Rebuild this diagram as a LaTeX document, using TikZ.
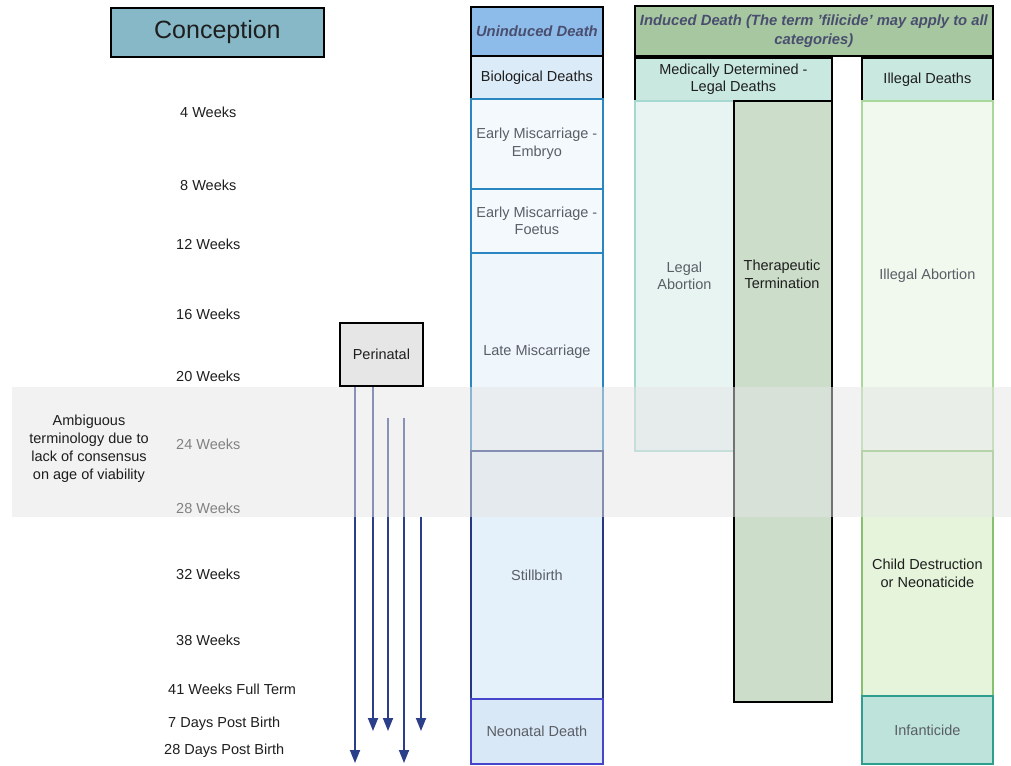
\documentclass[tikz,border=0pt]{standalone}
\usepackage{fontspec}
\setmainfont{Liberation Sans}
\usetikzlibrary{arrows.meta}
\definecolor{cConc}{HTML}{86B8C8}
\definecolor{cUnind}{HTML}{8EBCEA}
\definecolor{cBio}{HTML}{DCEBF8}
\definecolor{cMisB}{HTML}{2A86C0}
\definecolor{cMisF}{HTML}{F4F9FD}
\definecolor{cLateF}{HTML}{EFF6FC}
\definecolor{cStillB}{HTML}{28357F}
\definecolor{cStillF}{HTML}{E5F1FA}
\definecolor{cNeoB}{HTML}{4646CC}
\definecolor{cNeoF}{HTML}{D8E8F6}
\definecolor{cInd}{HTML}{A7C7A1}
\definecolor{cMed}{HTML}{C8E8E0}
\definecolor{cLegF}{HTML}{E8F4F2}
\definecolor{cLegB}{HTML}{A6D8D0}
\definecolor{cTherF}{HTML}{CCDDC9}
\definecolor{cIllF}{HTML}{F1F8EE}
\definecolor{cIllB}{HTML}{A9D89A}
\definecolor{cChF}{HTML}{E5F4DB}
\definecolor{cChB}{HTML}{86C070}
\definecolor{cInfF}{HTML}{BDE3DA}
\definecolor{cInfB}{HTML}{2F9E8E}
\definecolor{cPeri}{HTML}{E6E6E6}
\definecolor{cHead}{HTML}{4A4E6E}
\definecolor{cGreyTxt}{HTML}{5A5E66}
\definecolor{cArrow}{HTML}{2B3E8A}
\definecolor{cTxt}{HTML}{1E1E1E}
\tikzset{
  box/.style={draw, line width=1.8pt, inner sep=0pt, align=center, anchor=north west,
    font=\fontsize{14.5}{17.5}\selectfont},
  greytxt/.style={text=cGreyTxt},
  wk/.style={anchor=west, inner sep=0pt, text=cTxt, font=\fontsize{14.5}{17}\selectfont},
  darr/.style={draw=cArrow, line width=1.8pt, -{Triangle[width=10pt,length=13pt]}},
}
\begin{document}
\begin{tikzpicture}[x=1pt,y=-1pt]
\useasboundingbox (0,0) rectangle (1011,765);
% Conception
\node[box, fill=cConc, minimum width=213pt, minimum height=49pt, text=cTxt,
  font=\fontsize{25}{29}\selectfont] (conc) at (110,7) {Conception};
% week labels
\node[wk] (w4) at (180,112) {4 Weeks};
\node[wk] (w8) at (180,185) {8 Weeks};
\node[wk] (w12) at (176,244) {12 Weeks};
\node[wk] (w16) at (176,314) {16 Weeks};
\node[wk] (w20) at (176,376) {20 Weeks};
\node[wk] (w24) at (176,444) {24 Weeks};
\node[wk] (w28) at (176,508) {28 Weeks};
\node[wk] (w32) at (176,574) {32 Weeks};
\node[wk] (w38) at (176,640) {38 Weeks};
\node[wk] (w41) at (168,689) {41 Weeks Full Term};
\node[wk] (d7) at (168,724) {7 Days Post Birth};
\node[wk] (d28) at (164,751) {28 Days Post Birth};
% Uninduced column
\node[box, fill=cUnind, minimum width=132pt, minimum height=49pt, text=cHead,
  font=\fontsize{14.8}{17}\selectfont\bfseries\itshape] (unind) at (470,6) {Uninduced Death};
\node[box, fill=cBio, minimum width=132pt, minimum height=43pt, text=cTxt] (bio) at (470,55) {Biological Deaths};
\node[box, greytxt, draw=cMisB, fill=cMisF, minimum width=132pt, minimum height=90pt] (emb) at (470,98) {Early Miscarriage -\\Embryo};
\node[box, greytxt, draw=cMisB, fill=cMisF, minimum width=132pt, minimum height=64pt] (foe) at (470,188) {Early Miscarriage -\\Foetus};
\node[box, greytxt, draw=cMisB, fill=cLateF, minimum width=132pt, minimum height=198pt] (late) at (470,252) {Late Miscarriage};
\node[box, greytxt, draw=cStillB, fill=cStillF, minimum width=132pt, minimum height=248pt] (still) at (470,450) {Stillbirth};
\node[box, greytxt, draw=cNeoB, fill=cNeoF, minimum width=132pt, minimum height=65pt] (neo) at (470,698) {Neonatal Death};
% Induced column
\node[box, fill=cInd, minimum width=358pt, minimum height=50pt, text=cHead,
  font=\fontsize{14.8}{19}\selectfont\bfseries\itshape] (ind) at (634,5)
  {Induced Death (The term 'filicide' may apply to all\\categories)};
\node[box, fill=cMed, minimum width=197pt, minimum height=43pt, text=cTxt] (med) at (634,57) {Medically Determined -\\Legal Deaths};
\node[box, fill=cMed, minimum width=131pt, minimum height=43pt, text=cTxt] (illd) at (861,57) {Illegal Deaths};
\node[box, greytxt, draw=cLegB, fill=cLegF, minimum width=99pt, minimum height=350pt] (lega) at (634,100) {Legal\\Abortion};
\node[box, fill=cTherF, minimum width=98pt, minimum height=601pt] (ther) at (733,100) {};
\node[align=center, inner sep=0pt, text=cTxt, font=\fontsize{14.5}{18}\selectfont] (thert) at (782,274) {Therapeutic\\Termination};
\node[box, greytxt, draw=cIllB, fill=cIllF, minimum width=131pt, minimum height=350pt] (illa) at (861,100) {Illegal Abortion};
\node[box, draw=cChB, fill=cChF, minimum width=131pt, minimum height=245pt, text=cTxt] (child) at (861,450) {Child Destruction\\or Neonaticide};
\node[box, greytxt, draw=cInfB, fill=cInfF, minimum width=131pt, minimum height=68pt] (inf) at (861,695) {Infanticide};
% Perinatal
\node[box, fill=cPeri, minimum width=83pt, minimum height=63pt, text=cTxt] (peri) at (339,322) {Perinatal};
\coordinate (a1e) at (355,763);
\coordinate (a2e) at (373,731);
\coordinate (a3s) at (388,418);
\coordinate (a3e) at (388,731);
\coordinate (a4s) at (404,418);
\coordinate (a4e) at (404,763);
\coordinate (a5s) at (421,517);
\coordinate (a5e) at (421,731);
\draw[darr] (peri.south west -| a1e) -- (a1e);
\draw[darr] (peri.south west -| a2e) -- (a2e);
\draw[darr] (a3s) -- (a3e);
\draw[darr] (a4s) -- (a4e);
\draw[darr] (a5s) -- (a5e);
% ambiguity band (translucent overlay)
\fill[gray!20, opacity=0.5] (12,387) rectangle (1011,517);
\node[align=center, inner sep=0pt, text=cTxt, font=\fontsize{14.5}{18}\selectfont] (amb) at (89,449)
  {Ambiguous\\terminology due to\\lack of consensus\\on age of viability};
\end{tikzpicture}
\end{document}
